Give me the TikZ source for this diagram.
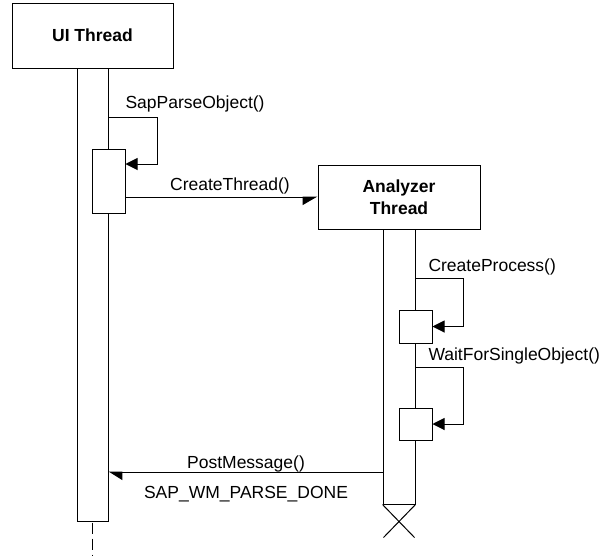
\documentclass[tikz,border=0pt]{standalone}
\usepackage{fontspec}
\setmainfont{Liberation Sans}
\usetikzlibrary{arrows.meta}
\tikzset{
    lane/.style={draw, fill=white, inner sep=0pt},
    head/.style={lane, font=\fontsize{17.5}{22}\selectfont\bfseries, align=center},
    lbl/.style={font=\fontsize{17.5}{22}\selectfont, inner sep=0pt},
    selfcall/.style={-{Triangle[length=12pt,width=12pt]}},
    asyncr/.style={-{Triangle[right,length=14pt,width=16pt]}},
    asyncl/.style={-{Triangle[left,length=13pt,width=16pt]}}
}
\begin{document}
\begin{tikzpicture}[x=1pt,y=-1pt,line width=1pt]

        \useasboundingbox (0,0) rectangle (602,555);

        \node[head, minimum width=161pt, minimum height=65pt] (ui) at (92.5,35.5) {UI Thread};
        \node[lane, minimum width=31pt, minimum height=453pt] (uibar) at (92.5,294.5) {};
        \draw[dash pattern=on 11pt off 5pt] (uibar.south) ++(0,1) -- ++(0,36);
        \node[lane, minimum width=33pt, minimum height=64pt] (uiact) at (108.5,181) {};

        \node[head, minimum width=162pt, minimum height=64pt] (an) at (399,197) {Analyzer\\Thread};
        \node[lane, minimum width=32pt, minimum height=275pt] (anbar) at (399,366.5) {};
        \node[lane, minimum width=33pt, minimum height=33pt] (act1) at (415.5,326.5) {};
        \node[lane, minimum width=33pt, minimum height=32pt] (act2) at (415.5,424) {};
        \draw (anbar.south west) -- ++(32,33) (anbar.south east) -- ++(-32,33);

        \draw[selfcall] (uibar.east |- 0,117) -- ++(49,0) |- (uiact.east |- 0,164);
        \node[lbl, anchor=base west] (sapl) at (125,108) {SapParseObject()};

        \draw[asyncr] (uiact.east |- an.west) -- (an.west);
        \node[lbl, anchor=base] (ctl) at (230,190) {CreateThread()};

        \draw[selfcall] (anbar.east |- 0,278) -- ++(48,0) |- (act1.east);
        \node[lbl, anchor=base west] (cpl) at (428,271) {CreateProcess()};

        \draw[selfcall] (anbar.east |- 0,367) -- ++(48,0) |- (act2.east);
        \node[lbl, anchor=base west] (wfl) at (428,360) {WaitForSingleObject()};

        \draw[asyncl] (anbar.west |- 0,472) -- (uibar.east |- 0,472);
        \node[lbl, anchor=base] (pml) at (246,468) {PostMessage()};
        \node[lbl, anchor=base] (sdl) at (246,498) {SAP\_WM\_PARSE\_DONE};
    \end{tikzpicture}
\end{document}
